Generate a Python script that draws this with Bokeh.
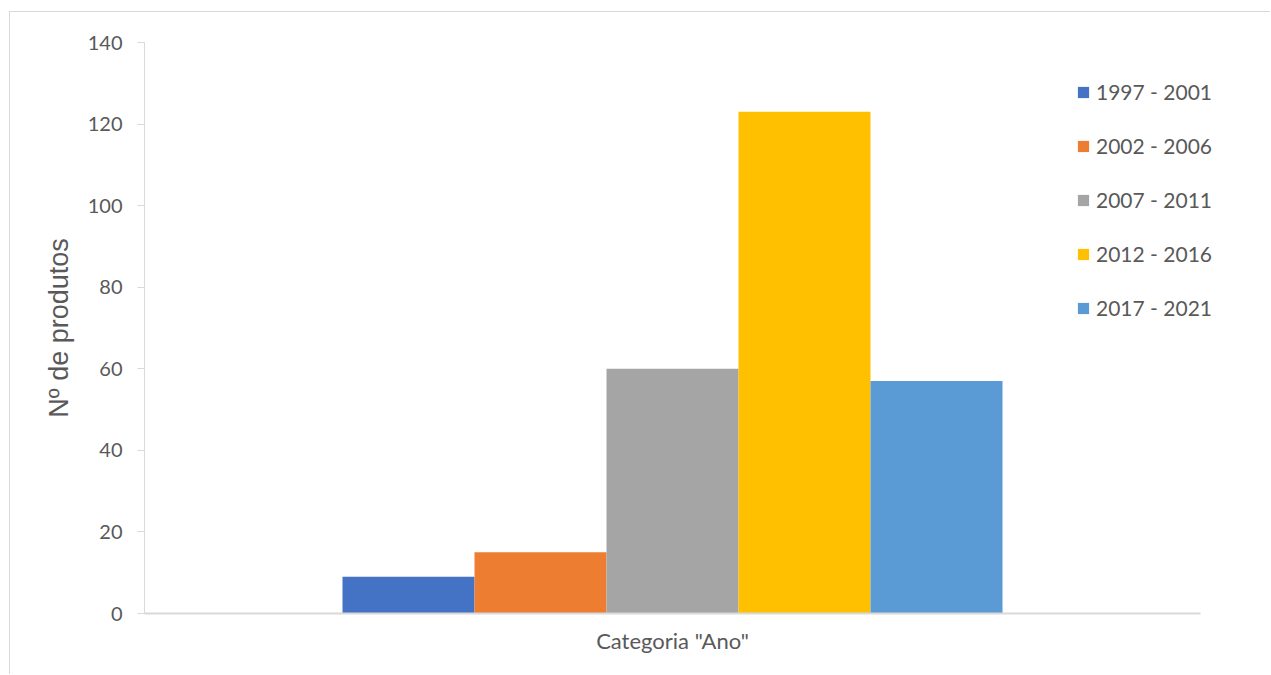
from bokeh.plotting import figure
from bokeh.models import Range1d, ColumnDataSource, Legend, LegendItem, FixedTicker
from bokeh.embed import file_html
from bokeh.resources import INLINE

categories = ['Categoria "Ano"']
series = ["1997 - 2001", "2002 - 2006", "2007 - 2011", "2012 - 2016", "2017 - 2021"]
values = [9, 15, 60, 123, 57]
colors = ["#4472C4", "#ED7D31", "#A5A5A5", "#FFC000", "#5B9BD5"]
y_ticks = [0, 20, 40, 60, 80, 100, 120, 140]

# frame 144..1260 px; category axis spans 144..1200 px (0..1)
x_end = (1260 - 144) / (1200 - 144)

p = figure(width=1261, height=663, output_backend="svg", toolbar_location=None,
           x_range=Range1d(0, x_end),
           y_range=Range1d(0, 140),
           min_border_left=134, min_border_top=30, min_border_right=11, min_border_bottom=62,
           margin=(11, 0, 0, 9),
           styles={"border-top": "1px solid #d9d9d9", "border-left": "1px solid #d9d9d9"})
p.outline_line_color = None
p.xgrid.visible = False
p.ygrid.visible = False

bw = 0.125
n = len(series)
items = []
for i, (s, v, c) in enumerate(zip(series, values, colors)):
    xc = 0 + 0.5 + (i - (n - 1) / 2) * bw  # category index 0
    src = ColumnDataSource(dict(x=[xc], top=[v]))
    r = p.vbar(x="x", top="top", width=bw, source=src, fill_color=c, line_color=None)
    items.append(LegendItem(label=s, renderers=[r]))

legend = Legend(items=items, location=(932, 293))
legend.label_text_font = "Lato"
legend.label_text_font_size = "21px"
legend.label_text_color = "#595959"
legend.glyph_width = 14
legend.glyph_height = 14
legend.label_height = 20
legend.spacing = 29
legend.padding = 0
legend.margin = 0
legend.label_standoff = 6
legend.border_line_color = None
legend.background_fill_alpha = 0
p.add_layout(legend)

p.yaxis.ticker = y_ticks
p.yaxis.axis_line_color = "#d9d9d9"
p.yaxis.axis_line_width = 1
p.yaxis.major_tick_line_color = "#d9d9d9"
p.yaxis.major_tick_in = 0
p.yaxis.major_tick_out = 7
p.yaxis.minor_tick_line_color = None
p.yaxis.major_label_text_font = "Lato"
p.yaxis.major_label_text_font_size = "20px"
p.yaxis.major_label_text_color = "#595959"
p.yaxis.major_label_standoff = 15
p.yaxis.axis_label = "Nº de produtos"
p.yaxis.axis_label_text_font = "Liberation Sans"
p.yaxis.axis_label_text_font_size = "27px"
p.yaxis.axis_label_text_font_style = "normal"
p.yaxis.axis_label_text_color = "#595959"
p.yaxis.axis_label_standoff = 11

p.xaxis.ticker = FixedTicker(ticks=[k + 0.5 for k in range(len(categories))])
p.xaxis.major_label_overrides = {k + 0.5: c for k, c in enumerate(categories)}
p.xaxis.bounds = (0, len(categories))
p.xaxis.axis_line_color = "#d9d9d9"
p.xaxis.axis_line_width = 2
p.xaxis.major_tick_line_color = None
p.xaxis.minor_tick_line_color = None
p.xaxis.major_label_text_font = "Lato"
p.xaxis.major_label_text_font_size = "22px"
p.xaxis.major_label_text_color = "#595959"
p.xaxis.major_label_standoff = 7

open("out.html", "w").write(file_html(p, INLINE))
